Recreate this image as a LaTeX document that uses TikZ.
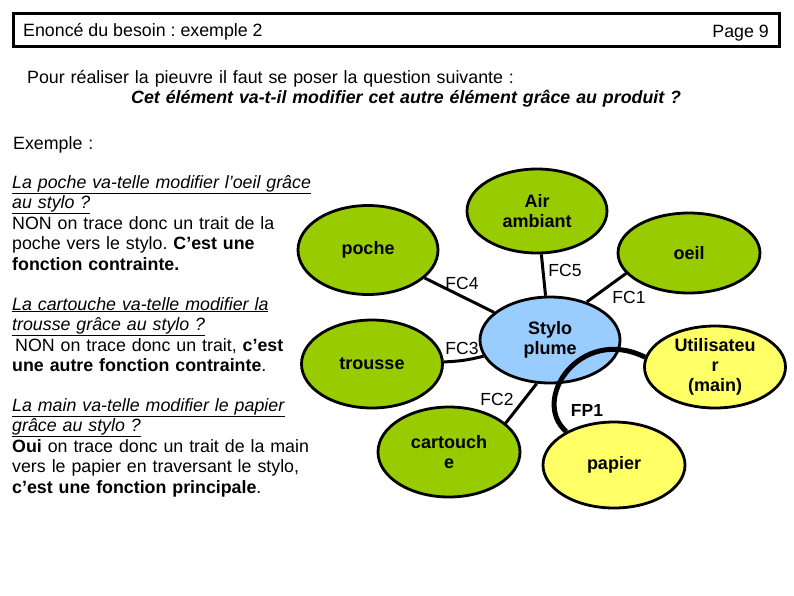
\documentclass[tikz,border=0pt]{standalone}
\usepackage{fontspec}
\setmainfont{Liberation Sans}
\usepackage{xcolor}
\usetikzlibrary{shapes.geometric}
\definecolor{leaf}{HTML}{99CC00}
\definecolor{sun}{HTML}{FFFF66}
\definecolor{sky}{HTML}{99CCFF}
\frenchspacing

\tikzset{
  bulle/.style={ellipse, draw=black, line width=2.8pt, inner sep=0pt, align=center,
    minimum width=140pt, minimum height=86pt, font=\fontsize{18}{20}\selectfont\bfseries},
  lien/.style={line width=3pt},
  etiq/.style={font=\fontsize{17.5}{20}\selectfont},
  para/.style={anchor=base west, inner sep=0pt, align=left, text width=340pt,
    font=\fontsize{17.8}{20.5}\selectfont}
}

\begin{document}
\begin{tikzpicture}[x=1pt, y=-1pt]
          \useasboundingbox (0,0) rectangle (794,595);

          % Header
          \draw[line width=3pt] (13,13) rectangle (779,46);
          \node[anchor=base west, inner sep=0pt, font=\fontsize{17.8}{20}\selectfont] (titre) at (23,36) {Enoncé du besoin : exemple 2};
          \node[anchor=base east, inner sep=0pt, font=\fontsize{17.8}{20}\selectfont] (page) at (769,37) {Page 9};

          % Question
          \node[para, text width=600pt] (question) at (27,83) {Pour réaliser la pieuvre il faut se poser la question suivante :};
          \node[para, text width=600pt, font=\fontsize{17.8}{20.5}\selectfont\bfseries\itshape] (regle) at (131,103) {Cet élément va-t-il modifier cet autre élément grâce au produit ?};
          \node[para] (exemple) at (13,149) {Exemple :};

          % Left column
          \node[para] (texteA) at (12,188) {
            \underline{\textit{La poche va-telle modifier l’oeil grâce}}\\
            \underline{\textit{au stylo ?}}\\
            NON on trace donc un trait de la\\
            poche vers le stylo. \textbf{C’est une}\\
            \textbf{fonction contrainte.}
          };
          \node[para] (texteB) at (12,310) {
            \underline{\textit{La cartouche va-telle modifier la}}\\
            \underline{\textit{trousse grâce au stylo ?}}\\
            \hspace*{3pt}NON on trace donc un trait, \textbf{c’est}\\
            \textbf{une autre fonction contrainte}.
          };
          \node[para] (texteC) at (12,411) {
            \underline{\textit{La main va-telle modifier le papier}}\\
            \underline{\textit{grâce au stylo ?}}\\
            \textbf{Oui} on trace donc un trait de la main\\
            vers le papier en traversant le stylo,\\
            \textbf{c’est une fonction principale}.
          };

          % Octopus
          \node[bulle, fill=leaf, minimum height=89pt] (poche) at (368,250) {poche};
          \node[bulle, fill=leaf, minimum height=84pt] (air) at (537,211) {Air\\ambiant};
          \node[bulle, fill=leaf, minimum width=142pt, minimum height=80pt] (oeil) at (689,253) {oeil};
          \node[bulle, fill=leaf, minimum width=141pt, minimum height=88pt] (trousse) at (372,364) {trousse};
          \node[bulle, fill=leaf, minimum width=142pt, minimum height=90pt] (cartouche) at (449,452) {cartouch\\e};
          \node[bulle, fill=sky] (stylo) at (550,340) {Stylo\\plume};
          \node[bulle, fill=sun, minimum width=141pt, minimum height=82pt] (util) at (715,367) {Utilisateu\\r\\(main)};
          \node[bulle, fill=sun, minimum width=142pt] (papier) at (614,465) {papier};

          % Constraint functions
          \draw[lien] (poche) -- (stylo);
          \draw[lien] (air) -- (stylo);
          \draw[lien] (oeil.-162) -- (stylo.46);
          \draw[lien] (trousse) to[bend right=6] (stylo);
          \draw[lien] (stylo.-107) -- (cartouche.27);
          \node[etiq] (fc4) at (462,283) {FC4};
          \node[etiq] (fc5) at (565,270) {FC5};
          \node[etiq] (fc1) at (629,297) {FC1};
          \node[etiq] (fc3) at (462,348) {FC3};
          \node[etiq] (fc2) at (497,399) {FC2};

          % Main function
          \draw[line width=5pt] (util.172) .. controls (580,325) and (530,400) .. (papier.145);
          \node[etiq, font=\fontsize{17.5}{20}\selectfont\bfseries] (fp1) at (587,410) {FP1};
        \end{tikzpicture}
\end{document}
